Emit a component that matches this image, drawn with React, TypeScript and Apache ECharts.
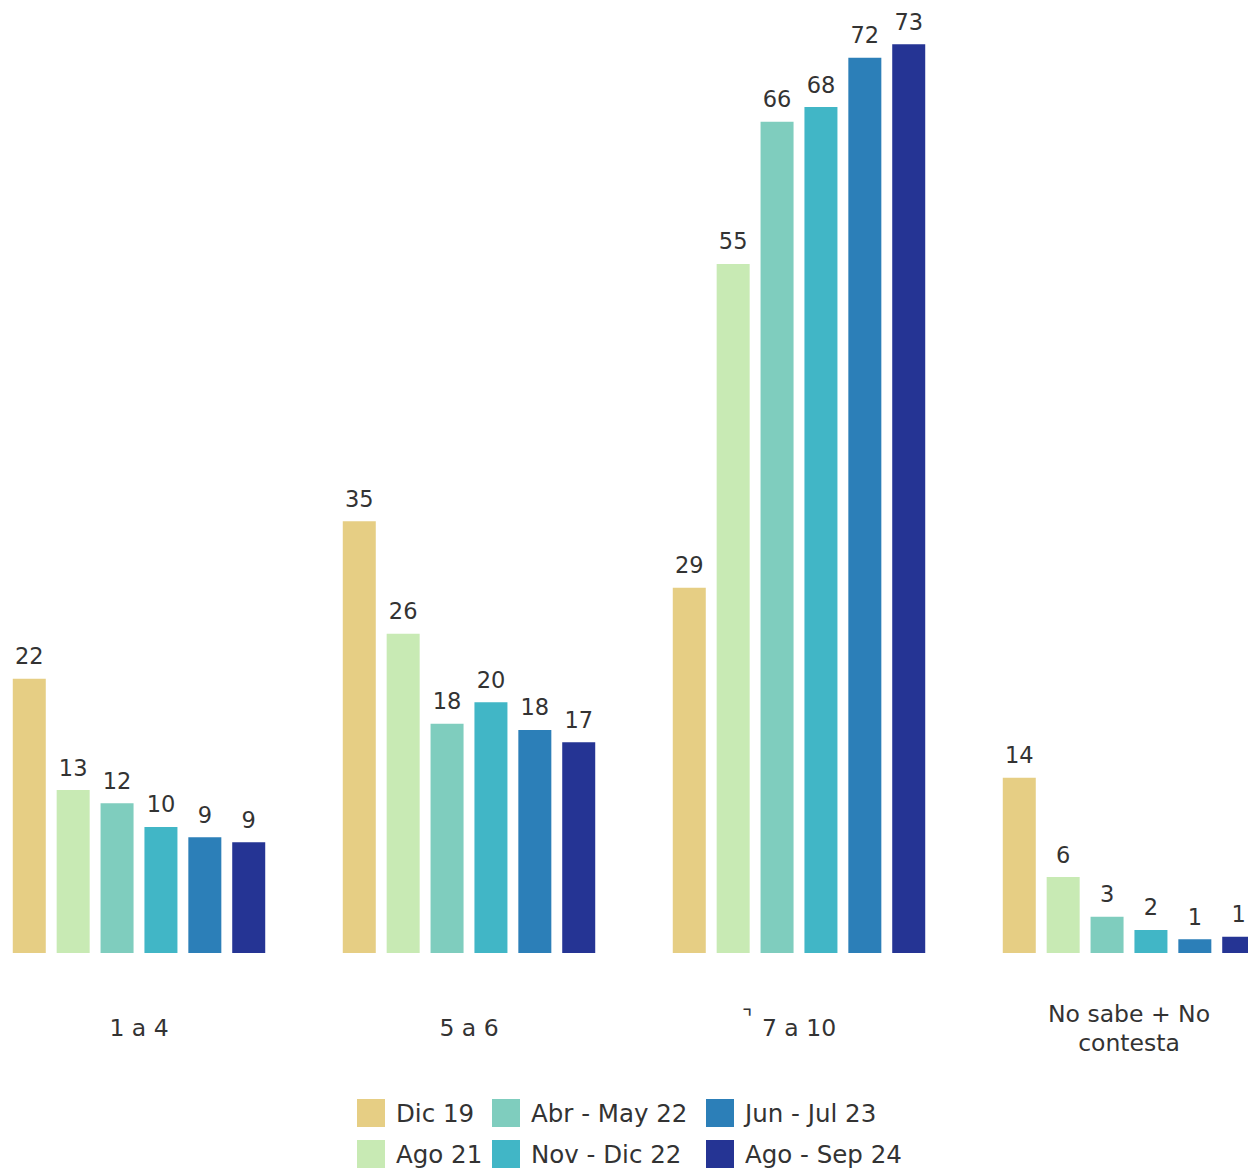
import React, { useEffect, useRef } from "react";
import * as echarts from "echarts";

const categories = ["1 a 4", "5 a 6", "7 a 10", "No sabe + No\ncontesta"];
const seriesNames = ["Dic 19", "Ago 21", "Abr - May 22", "Nov - Dic 22", "Jun - Jul 23", "Ago - Sep 24"];
const colors = ["#E6CE84", "#C8EAB4", "#7FCDBE", "#41B6C6", "#2C7FB8", "#253494"];

// bar heights
const dic19 = [22.05, 34.7, 29.37, 14.09];
const ago21 = [13.1, 25.67, 55.39, 6.1];
const abrMay22 = [12.03, 18.43, 66.83, 2.92];
const novDic22 = [10.13, 20.15, 68.0, 1.85];
const junJul23 = [9.3, 17.93, 71.97, 1.1];
const agoSep24 = [8.9, 16.94, 73.05, 1.31];

// printed labels
const lblDic19 = [22, 35, 29, 14];
const lblAgo21 = [13, 26, 55, 6];
const lblAbrMay22 = [12, 18, 66, 3];
const lblNovDic22 = [10, 20, 68, 2];
const lblJunJul23 = [9, 18, 72, 1];
const lblAgoSep24 = [9, 17, 73, 1];

const allValues = [dic19, ago21, abrMay22, novDic22, junJul23, agoSep24];
const allLabels = [lblDic19, lblAgo21, lblAbrMay22, lblNovDic22, lblJunJul23, lblAgoSep24];

const FONT = "DejaVu Sans";
const OFFSET = 40;

export default function App() {
  const ref = useRef<HTMLDivElement>(null);
  useEffect(() => {
    if (!ref.current) return;
    const chart = echarts.init(ref.current, null, { renderer: "svg" });
    const legendCols = [
      [0, 1],
      [2, 3],
      [4, 5],
    ];
    const legendLefts = [357, 492, 706];
    chart.setOption({
      animation: false,
      textStyle: { fontFamily: FONT },
      grid: { left: 14, width: 1320, top: 20, height: 933 },
      legend: legendCols.map((col, i) => ({
        orient: "vertical",
        left: legendLefts[i] + OFFSET,
        top: 1099,
        padding: 0,
        itemWidth: 28,
        itemHeight: 28,
        itemGap: 13,
        icon: "rect",
        selectedMode: false,
        data: col.map((k) => seriesNames[k]),
        textStyle: { fontFamily: FONT, fontSize: 24.5, color: "#333", padding: [0, 0, 0, 6] },
      })),
      xAxis: {
        type: "category",
        data: categories,
        axisLine: { show: false },
        axisTick: { show: false },
        axisLabel: {
          margin: 75,
          verticalAlign: "middle",
          fontFamily: FONT,
          fontSize: 23.5,
          lineHeight: 29,
          color: "#333",
        },
      },
      yAxis: { type: "value", min: 0, max: 75, show: false, splitLine: { show: false } },
      graphic: [
        {
          type: "text",
          left: 742 + OFFSET,
          top: 1006,
          style: { text: "⌝", font: `22px ${FONT}`, fill: "#333" },
        },
      ],
      series: allValues.map((vals, i) => ({
        name: seriesNames[i],
        type: "bar",
        barWidth: 33,
        barGap: "33%",
        itemStyle: { color: colors[i] },
        data: vals,
        label: {
          show: true,
          position: "top",
          distance: 11,
          fontFamily: FONT,
          fontSize: 22.5,
          color: "#333",
          formatter: (p: any) => String(allLabels[i][p.dataIndex]),
        },
      })),
    });
    return () => chart.dispose();
  }, []);
  return (
    <div style={{ position: "fixed", left: 0, top: 0, width: 1248, height: 1170, overflow: "hidden", background: "#fff" }}>
      <div ref={ref} style={{ position: "absolute", left: -OFFSET, top: 0, width: 1340, height: 1170 }} />
    </div>
  );
}
